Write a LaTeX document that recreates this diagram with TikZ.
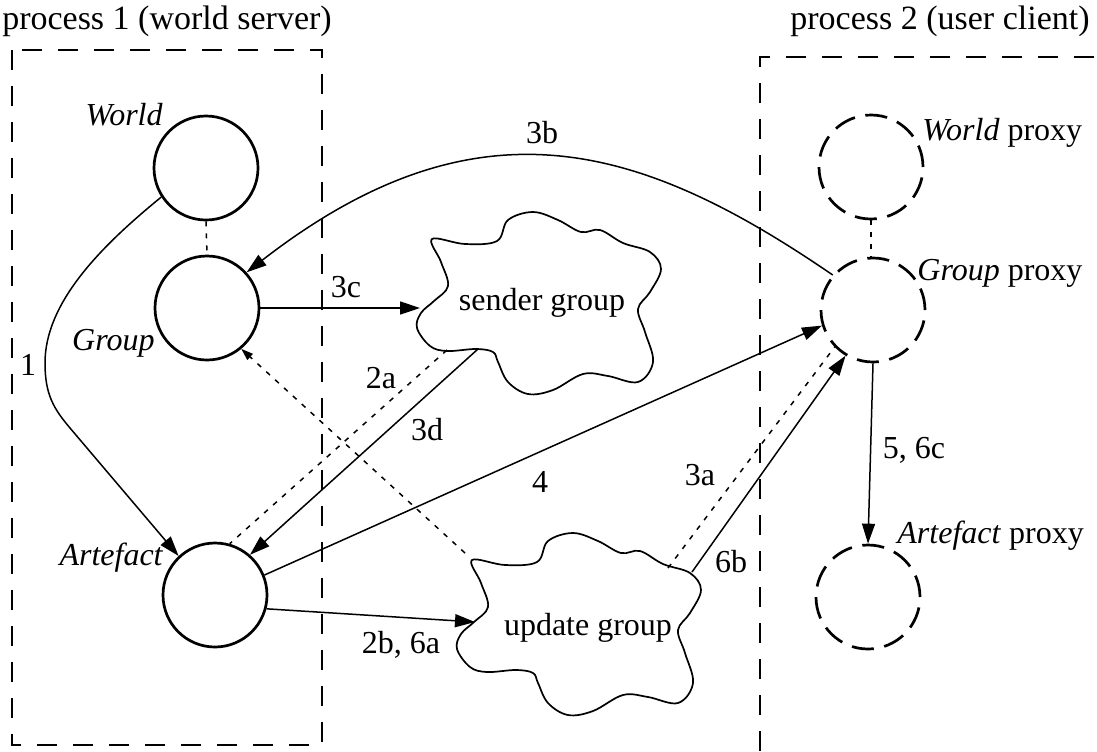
\documentclass[tikz,border=0pt]{standalone}
\usepackage{fontspec}
\setmainfont{Liberation Serif}
\usetikzlibrary{arrows.meta}
\begin{document}
\begin{tikzpicture}[x=0.5pt,y=-0.5pt, font=\fontsize{16}{19}\selectfont,
  solidc/.style={circle, draw, line width=1.35pt, minimum size=52pt, inner sep=0pt},
  dashc/.style={solidc, dash pattern=on 11pt off 5.34pt},
  conn/.style={line width=0.75pt, -{Triangle[length=10pt,width=6.5pt]}},
  dotline/.style={line width=0.75pt, dash pattern=on 2.5pt off 3.5pt},
  dotarrow/.style={dotline, -{Triangle[length=6pt,width=4pt]}},
  boxline/.style={line width=0.75pt, dash pattern=on 10pt off 8pt},
  cloudline/.style={line width=0.85pt},
  lbl/.style={anchor=base, inner sep=0pt},
  title/.style={lbl, font=\fontsize{17}{20}\selectfont}]
\useasboundingbox (0,0) rectangle (1097,751);

% process boxes
\draw[boxline] (12,50) rectangle (322,745);
\draw[boxline] (760,751) -- (760,57) -- (1097,57);
\node[title] (p1) at (167,29) {process 1 (world server)};
\node[title] (p2) at (940,29) {process 2 (user client)};

% circles
\node[solidc] (world) at (206,168) {};
\node[solidc] (group) at (207,308) {};
\node[solidc] (artefact) at (215,595) {};
\node[dashc] (wproxy) at (871,167) {};
\node[dashc] (gproxy) at (873,310) {};
\node[dashc] (aproxy) at (868,597) {};

% clouds
\begin{scope}[shift={(538,304)}]
\draw[cloudline] plot[smooth cycle, tension=0.6] coordinates {
 (-106,-65) (-73,-60) (-41,-63) (-30,-84) (-5,-92) (20,-84) (43,-72) (62,-74)
 (85,-61) (112,-52) (123,-35) (112,-12) (100,5) (107,28) (115,58) (100,78)
 (70,72) (45,70) (15,86) (-10,90) (-30,78) (-40,58) (-45,48) (-62,45) (-91,47)
 (-108,42) (-121,24) (-117,9) (-104,-3) (-90,-18) (-97,-42)};
\coordinate (sIn) at (-118,4);
\coordinate (sDot) at (-91,46);
\coordinate (sOut) at (-60,45);
\end{scope}
\node[lbl] (sender) at (542,310) {sender group};

\begin{scope}[shift={(578,625)}]
\draw[cloudline] plot[smooth cycle, tension=0.6] coordinates {
 (-106,-65) (-73,-60) (-41,-63) (-30,-84) (-5,-92) (20,-84) (43,-72) (62,-74)
 (85,-61) (112,-52) (123,-35) (112,-12) (100,5) (107,28) (115,58) (100,78)
 (70,72) (45,70) (15,86) (-10,90) (-30,78) (-40,58) (-45,48) (-62,45) (-91,47)
 (-108,42) (-121,24) (-117,9) (-104,-3) (-90,-18) (-97,-42)};
\coordinate (uIn) at (-103,-3);
\coordinate (uDot) at (-113,-72);
\coordinate (u3a) at (90,-57);
\coordinate (u6b) at (114,-53);
\end{scope}
\node[lbl] (update) at (588,635) {update group};

% node labels
\node[lbl, anchor=base east] (lworld) at (163,125) {\itshape World};
\node[lbl, anchor=base east] (lgroup) at (155,350) {\itshape Group};
\node[lbl, anchor=base east] (lartefact) at (163,565) {\itshape Artefact};
\node[lbl, anchor=base west] (lwproxy) at (922,140) {\textit{World} proxy};
\node[lbl, anchor=base west] (lgproxy) at (917,280) {\textit{Group} proxy};
\node[lbl, anchor=base west] (laproxy) at (897,543) {\textit{Artefact} proxy};

% connectors
\draw[conn] (world.213) .. controls (100,247) and (45,303) .. (45,363)
  .. controls (45,395) and (54,409) .. (70,428) -- (artefact.133);
\draw[dotline] (world.south) -- (group.north);
\draw[dotline] (wproxy.south) -- (wproxy.south |- gproxy.north);
\draw[conn] (gproxy.139) .. controls (643,145) and (479,92) .. (group.42);
\draw[conn] (group.east) -- (sIn);
\draw[dotline] (sDot) -- (artefact.74);
\draw[conn] (sOut) -- (artefact.49);
\draw[dotarrow] (uDot) -- (group.-50);
\draw[conn] (artefact.22) -- (gproxy.197);
\draw[conn] (artefact.-15) -- (uIn);
\draw[dotline] (u3a) -- (gproxy.224);
\draw[conn] (u6b) -- (gproxy.239);
\draw[conn] (gproxy.south) -- (aproxy.north);

% connector labels
\node[lbl] (l1) at (28,375) {1};
\node[lbl] (l3b) at (542,143) {3b};
\node[lbl] (l3c) at (346,297) {3c};
\node[lbl] (l2a) at (381,388) {2a};
\node[lbl] (l3d) at (427,440) {3d};
\node[lbl] (l4) at (540,492) {4};
\node[lbl] (l3a) at (700,485) {3a};
\node[lbl] (l6b) at (731,572) {6b};
\node[lbl] (l56c) at (914,458) {5, 6c};
\node[lbl] (l2b6a) at (401,653) {2b, 6a};
\end{tikzpicture}
\end{document}
